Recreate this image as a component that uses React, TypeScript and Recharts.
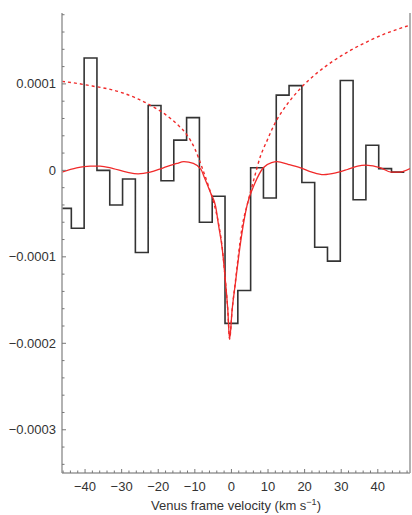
import React from "react";
import { ComposedChart, Line, XAxis, YAxis, ReferenceLine } from "recharts";

// Spectrum bins (km/s centres, 3.5 km/s wide) and measured line depth
const binCenters = [
  -45.5, -42, -38.5, -35, -31.5, -28, -24.5, -21, -17.5, -14, -10.5, -7, -3.5,
  0, 3.5, 7, 10.5, 14, 17.5, 21, 24.5, 28, 31.5, 35, 38.5, 42, 45.5,
];
const binValues = [
  -0.000044, -0.000067, 0.00013, 0.0, -0.00004, -0.00001, -0.000095, 0.000075,
  -0.000012, 0.000035, 0.000061, -0.00006, -0.00003, -0.000177, -0.000139,
  0.000003, -0.000032, 0.000087, 0.000098, -0.000014, -0.000089, -0.000105,
  0.000104, -0.000034, 0.000029, 0.000002, -0.000002,
];
const BIN_WIDTH = 3.5;

// Narrow-line model fit (solid)
const fitVelocity = [
  -46.3, -42.3, -38.6, -35.9, -32.3, -28.6, -25.5, -22.2, -18.6, -14.9, -13,
  -10.4, -8.3, -7.5, -5.7, -4.3, -3.5, -2.5, -1.6, -1.0, -0.5, 0.2, 1.1, 2.0,
  2.9, 4.3, 6.4, 8.7, 11, 12.5, 15.5, 18.9, 22, 25.2, 28.5, 31.7, 34.5, 36.7,
  40.8, 43.6, 46, 48.8,
];
const fitValues = [
  -0.000002, 0.000003, 0.000005, 0.000005, 0.000002, -0.000002, -0.000004,
  -0.000002, 0.000003, 0.000008, 0.00001, 0.000008, 0.000001, -0.000007,
  -0.000026, -0.000042, -0.000064, -0.000091, -0.00013, -0.000161, -0.000195,
  -0.000161, -0.00013, -0.000099, -0.000072, -0.00004, -0.000015, 0.000003,
  0.000009, 0.00001, 0.000007, 0.000003, -0.000002, -0.000005, -0.000003,
  0.000001, 0.000005, 0.000006, 0.000003, -0.000002, -0.000002, 0.000002,
];

// Broad profile (dashed)
const broadVelocity = [
  -46.3, -42, -38, -34, -30, -26, -22, -18, -15, -12, -10, -8, -6.2, -4.8,
  -3.5, -2.5, -1.6, -1.0, -0.5, 0.2, 1.1, 2.0, 2.9, 4.3, 6.1, 7.9, 9.8, 11.6,
  13.5, 15.5, 18.9, 23.5, 28, 32.6, 37.2, 41.7, 46.3, 48.8,
];
const broadValues = [
  0.000103, 0.0001005, 0.0000975, 0.0000945, 0.00009, 0.0000835, 0.000075,
  0.0000645, 0.000054, 0.00004, 0.000025, 0.000003, -0.000019, -0.000038,
  -0.000062, -0.00009, -0.00013, -0.000161, -0.000195, -0.000161, -0.000128,
  -0.000095, -0.000066, -0.00004, -0.000011, 0.000016, 0.000035, 0.000052,
  0.000066, 0.000078, 0.000095, 0.000113, 0.000127, 0.000139, 0.000149,
  0.0001575, 0.0001645, 0.000168,
];

const xMajorTicks = [-40, -30, -20, -10, 0, 10, 20, 30, 40];
const yMajorTicks = [0.0001, 0, -0.0001, -0.0002, -0.0003];
const yTickLabels = ["0.0001", "0", "\u22120.0001", "\u22120.0002", "\u22120.0003"];

const X_DOMAIN: [number, number] = [-46.3, 48.8];
const Y_DOMAIN: [number, number] = [-0.00035, 0.000182];

// minor ticks every 2 km/s and every 2e-5
const xTicks: number[] = [];
for (let v = -46; v <= 48; v += 2) xTicks.push(v);
const yTicks: number[] = [];
for (let k = -17; k <= 9; k++) yTicks.push(k * 0.00002);

const histData = binCenters.map((c, i) => ({ v: c - BIN_WIDTH / 2, y: binValues[i] }));
histData.push({
  v: binCenters[binCenters.length - 1] + BIN_WIDTH / 2,
  y: binValues[binValues.length - 1],
});
const fitData = fitVelocity.map((v, i) => ({ v, y: fitValues[i] }));
const broadData = broadVelocity.map((v, i) => ({ v, y: broadValues[i] }));

const AXIS = "#999";
const TICK = "#777";
const TEXT = "#333";
const RED = "#f02a2a";
const FONT = "'Liberation Sans', Arial, sans-serif";

const fmtX = (v: number) => (v < 0 ? `\u2212${Math.abs(v)}` : `${v}`);

const XTick = (props: any) => {
  const { x, y, payload } = props;
  const v = payload.value as number;
  const major = xMajorTicks.includes(v);
  return (
    <g>
      <line x1={x} x2={x} y1={y} y2={y - (major ? 4 : 2.5)} stroke={TICK} strokeWidth={1} />
      {major && (
        <text x={x} y={y + 18} textAnchor="middle" fill={TEXT} fontSize={13} fontFamily={FONT}>
          {fmtX(v)}
        </text>
      )}
    </g>
  );
};

const YTick = (props: any) => {
  const { x, y, payload } = props;
  const v = payload.value as number;
  const idx = yMajorTicks.findIndex((t) => Math.abs(t - v) < 1e-9);
  const major = idx >= 0;
  return (
    <g>
      <line x1={x} x2={x + (major ? 4 : 2.5)} y1={y} y2={y} stroke={TICK} strokeWidth={1} />
      {major && (
        <text x={x - 6} y={y + 4.5} textAnchor="end" fill={TEXT} fontSize={13} fontFamily={FONT}>
          {yTickLabels[idx]}
        </text>
      )}
    </g>
  );
};

const AxisTitle = (props: any) => {
  const { viewBox } = props;
  const cx = viewBox.x + viewBox.width / 2;
  return (
    <text x={cx} y={510} textAnchor="middle" fill={TEXT} fontSize={13} fontFamily={FONT}>
      Venus frame velocity (km s
      <tspan fontSize={9} dy={-5}>{"\u22121"}</tspan>
      <tspan dy={5}>)</tspan>
    </text>
  );
};

export default function App() {
  return (
    <div style={{ position: "absolute", left: 0, top: 0, background: "#fff" }}>
      <ComposedChart width={412} height={515} margin={{ top: 13, right: 2, bottom: 0, left: 0 }}>
        <XAxis
          type="number"
          dataKey="v"
          domain={X_DOMAIN}
          allowDataOverflow
          ticks={xTicks}
          interval={0}
          tick={<XTick />}
          tickLine={false}
          tickSize={0}
          tickMargin={0}
          height={42}
          axisLine={{ stroke: AXIS, strokeWidth: 1.5 }}
          label={<AxisTitle />}
        />
        <YAxis
          type="number"
          domain={Y_DOMAIN}
          allowDataOverflow
          ticks={yTicks}
          interval={0}
          tick={<YTick />}
          tickLine={false}
          tickSize={0}
          tickMargin={0}
          width={62}
          axisLine={{ stroke: AXIS, strokeWidth: 1.5 }}
        />
        <ReferenceLine x={X_DOMAIN[1]} stroke={AXIS} strokeWidth={1.5} />
        <Line
          data={histData}
          dataKey="y"
          type="stepAfter"
          stroke="#333"
          strokeWidth={1.6}
          dot={false}
          isAnimationActive={false}
        />
        <Line
          data={broadData}
          dataKey="y"
          type="monotone"
          stroke={RED}
          strokeWidth={1.4}
          strokeDasharray="3 3"
          dot={false}
          isAnimationActive={false}
        />
        <Line
          data={fitData}
          dataKey="y"
          type="monotone"
          stroke={RED}
          strokeWidth={1.3}
          dot={false}
          isAnimationActive={false}
        />
      </ComposedChart>
    </div>
  );
}
